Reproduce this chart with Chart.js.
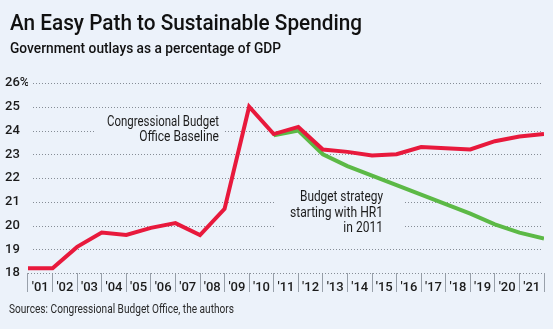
<!DOCTYPE html>
<html>
<head>
<meta charset="utf-8">
<script src="https://cdn.jsdelivr.net/npm/chart.js@4/dist/chart.umd.min.js"></script>
<style>
  html, body { margin: 0; padding: 0; background: #ecf2fa; }
  #wrap { width: 553px; height: 329px; position: relative; }
</style>
</head>
<body>
<div id="wrap"><canvas id="chart" width="553" height="329"></canvas></div>
<script>
// Outlays as % of GDP, one value per year boundary (start of '01 .. end of '21)
const yearLabels = ["'01", "'02", "'03", "'04", "'05", "'06", "'07", "'08", "'09", "'10", "'11",
                    "'12", "'13", "'14", "'15", "'16", "'17", "'18", "'19", "'20", "'21"];
const cboBaseline = [18.2, 18.2, 19.1, 19.7, 19.6, 19.9, 20.1, 19.6, 20.7, 25.0, 23.85,
                     24.15, 23.2, 23.1, 22.95, 23.0, 23.3, 23.25, 23.2, 23.55, 23.75, 23.85];
const hr1Strategy = [23.8, 24.0, 23.0, 22.5, 22.1, 21.7, 21.3, 20.9, 20.5, 20.05, 19.7, 19.45];
const hr1Start = 10;
const yTicks = [18, 19, 20, 21, 22, 23, 24, 25, 26];

const FONT = 'Roboto, "Liberation Sans", sans-serif';
const INK = '#1b1b1b';

// draw text squeezed/stretched to a given width
function drawFitted(ctx, text, x, y, width, align, squeeze) {
  const w = ctx.measureText(text).width;
  const sx = width ? width / w : (squeeze || 1);
  const left = align === 'right' ? x - w * sx : x;
  ctx.save();
  ctx.translate(left, y);
  ctx.scale(sx, 1);
  ctx.textAlign = 'left';
  ctx.fillText(text, 0, 0);
  ctx.restore();
}

const backdrop = {
  id: 'backdrop',
  beforeDraw(chart) {
    const ctx = chart.ctx;
    ctx.save();
    ctx.fillStyle = '#ecf2fa';
    ctx.fillRect(0, 0, chart.width, chart.height);
    ctx.restore();
  },
  beforeDatasetsDraw(chart) {
    const ctx = chart.ctx;
    const y = chart.scales.y;
    const right = chart.chartArea.right - 2;
    ctx.save();
    // dotted gridlines
    ctx.strokeStyle = '#868d96';
    ctx.lineWidth = 1;
    ctx.setLineDash([1, 2]);
    yTicks.forEach(v => {
      const py = Math.round(y.getPixelForValue(v)) + 0.5;
      const x0 = v === 18 ? chart.chartArea.left : 33;
      ctx.beginPath();
      ctx.moveTo(x0, py);
      ctx.lineTo(right, py);
      ctx.stroke();
    });
    ctx.setLineDash([]);
    // label backgrounds break the gridlines
    ctx.fillStyle = '#ecf2fa';
    ctx.fillRect(95, 113, 128, 33);
    ctx.fillRect(276, 188, 127, 46);

    ctx.fillStyle = INK;
    ctx.textBaseline = 'middle';
    ctx.font = '14px ' + FONT;
    drawFitted(ctx, 'Congressional Budget', 219, 122, 112, 'right');
    drawFitted(ctx, 'Office Baseline', 219, 137.5, null, 'right', 0.86);
    drawFitted(ctx, 'Budget strategy', 383, 197.5, 83, 'right');
    drawFitted(ctx, 'starting with HR1', 383, 213, 93, 'right');
    drawFitted(ctx, 'in 2011', 383, 228, null, 'right', 0.86);
    ctx.restore();
  },
  afterDraw(chart) {
    const ctx = chart.ctx;
    ctx.save();
    ctx.fillStyle = '#111';
    ctx.textBaseline = 'alphabetic';
    ctx.font = '500 22px ' + FONT;
    drawFitted(ctx, 'An Easy Path to Sustainable Spending', 10, 30, 352);
    ctx.font = '500 15px ' + FONT;
    drawFitted(ctx, 'Government outlays as a percentage of GDP', 10, 53, 271);
    ctx.fillStyle = '#2a2a2a';
    ctx.font = '13px ' + FONT;
    drawFitted(ctx, 'Sources: Congressional Budget Office, the authors', 9, 313, 225);
    ctx.restore();
  }
};

new Chart(document.getElementById('chart'), {
  type: 'line',
  data: {
    datasets: [
      {
        label: 'Congressional Budget Office Baseline',
        data: cboBaseline.map((v, i) => ({ x: i, y: v })),
        borderColor: '#e8193c',
        borderWidth: 4,
        pointRadius: 0,
        xAxisID: 'xd'
      },
      {
        label: 'Budget strategy starting with HR1 in 2011',
        data: hr1Strategy.map((v, i) => ({ x: i + hr1Start, y: v })),
        borderColor: '#5cb946',
        borderWidth: 4,
        pointRadius: 0,
        xAxisID: 'xd'
      }
    ]
  },
  options: {
    responsive: false,
    animation: false,
    layout: { padding: { left: 5, right: 9, top: 83, bottom: 32 } },
    plugins: {
      legend: { display: false },
      tooltip: { enabled: false }
    },
    scales: {
      xd: {
        type: 'linear',
        display: false,
        min: 0,
        max: cboBaseline.length - 1
      },
      x: {
        type: 'category',
        labels: yearLabels,
        offset: true,
        afterFit: axis => { axis.height = 24; },
        border: { display: false },
        grid: {
          offset: true,
          drawOnChartArea: false,
          drawTicks: true,
          tickLength: 19,
          color: ctx => ctx.index >= yearLabels.length ? 'rgba(0,0,0,0)' : '#98a0aa',
          lineWidth: 1
        },
        ticks: {
          padding: -12,
          maxRotation: 0,
          autoSkip: false,
          color: INK,
          font: { family: FONT, size: 13, weight: '500' }
        }
      },
      y: {
        min: 18,
        max: 26,
        afterFit: axis => { axis.width = 23; },
        border: { display: false },
        grid: { display: false },
        ticks: {
          stepSize: 1,
          padding: 0,
          crossAlign: 'far',
          color: INK,
          font: { family: FONT, size: 13, weight: '500' },
          callback: v => v === 26 ? '26%' : v
        }
      }
    }
  },
  plugins: [backdrop]
});
</script>
</body>
</html>
